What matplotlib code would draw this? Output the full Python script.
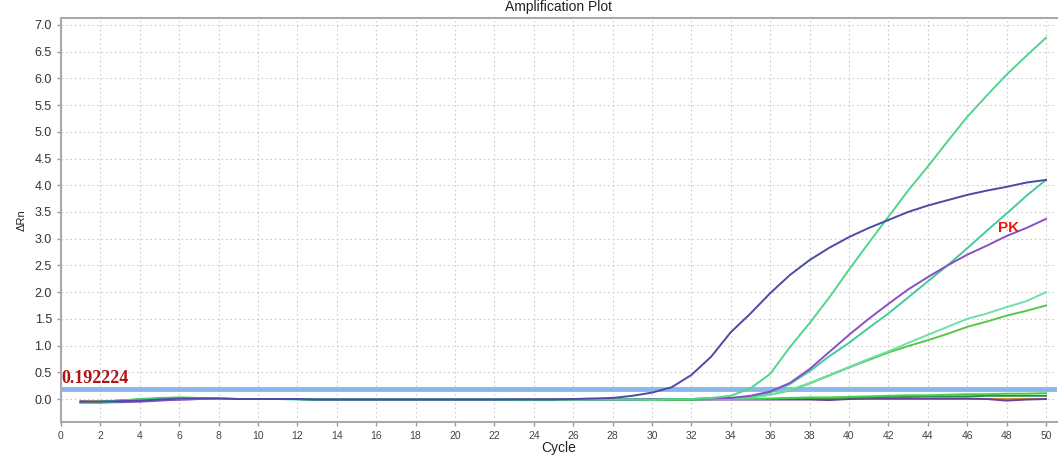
import matplotlib
matplotlib.use("Agg")
import matplotlib.pyplot as plt
import numpy as np

plt.rcParams['font.family'] = ['Liberation Sans', 'DejaVu Sans']

cycles = list(range(1, 51))

# amplified wells
blue = [-0.05, -0.05, -0.04, -0.03, -0.01, 0.01, 0.01, 0.01, 0.0, 0.0,
        0.0, 0.0, -0.01, -0.01, -0.01, -0.01, -0.01, -0.01, -0.01, -0.01,
        -0.01, -0.01, -0.01, -0.01, -0.01, 0.0, 0.01, 0.02, 0.06, 0.12,
        0.22, 0.45, 0.79, 1.25, 1.6, 1.98, 2.32, 2.6, 2.83, 3.03,
        3.2, 3.35, 3.5, 3.62, 3.72, 3.82, 3.9, 3.97, 4.05, 4.1]
green_hi = [-0.07, -0.06, -0.04, -0.02, 0.0, 0.01, 0.01, 0.0, 0.0, 0.0,
            0.0, -0.01, -0.01, -0.01, -0.01, -0.01, -0.01, -0.01, -0.01, -0.01,
            -0.01, -0.01, -0.02, -0.02, -0.02, -0.01, -0.01, -0.01, -0.01, -0.01,
            0.0, 0.0, 0.02, 0.06, 0.2, 0.47, 0.97, 1.42, 1.9, 2.42,
            2.92, 3.41, 3.9, 4.35, 4.82, 5.28, 5.68, 6.07, 6.42, 6.76]
teal = [-0.06, -0.05, -0.03, -0.01, 0.0, 0.01, 0.01, 0.0, 0.0, 0.0,
        0.0, 0.0, -0.01, -0.01, -0.01, -0.01, -0.01, -0.01, -0.01, -0.01,
        -0.01, -0.01, -0.01, -0.01, -0.01, -0.01, -0.01, -0.01, -0.01, 0.0,
        0.0, 0.0, 0.01, 0.02, 0.05, 0.12, 0.28, 0.52, 0.8, 1.05,
        1.33, 1.6, 1.9, 2.2, 2.5, 2.82, 3.15, 3.47, 3.8, 4.1]
pk = [-0.05, -0.06, -0.06, -0.05, -0.03, -0.01, 0.0, 0.0, 0.0, 0.0,
      0.0, 0.0, -0.01, -0.01, -0.01, -0.01, -0.01, -0.01, -0.01, -0.01,
      -0.01, -0.01, -0.01, -0.01, -0.01, -0.01, -0.01, -0.01, -0.01, 0.0,
      0.0, 0.0, 0.01, 0.02, 0.06, 0.14, 0.3, 0.56, 0.88, 1.2,
      1.5, 1.78, 2.05, 2.28, 2.5, 2.7, 2.87, 3.05, 3.2, 3.37]
mint = [-0.07, -0.06, -0.04, -0.02, 0.0, 0.01, 0.01, 0.0, 0.0, 0.0,
        0.0, 0.0, -0.01, -0.01, -0.01, -0.01, -0.01, -0.01, -0.01, -0.01,
        -0.01, -0.01, -0.01, -0.02, -0.02, -0.02, -0.01, -0.01, -0.01, -0.01,
        0.0, 0.0, 0.0, 0.01, 0.03, 0.08, 0.17, 0.3, 0.45, 0.6,
        0.75, 0.89, 1.05, 1.2, 1.35, 1.5, 1.6, 1.72, 1.83, 2.0]
lime = [-0.07, -0.07, -0.05, -0.03, -0.01, 0.0, 0.01, 0.0, 0.0, 0.0,
        0.0, 0.0, -0.01, -0.01, -0.01, -0.01, -0.01, -0.01, -0.01, -0.01,
        -0.01, -0.01, -0.01, -0.01, -0.01, -0.01, -0.01, -0.01, -0.01, -0.01,
        0.0, 0.0, 0.0, 0.01, 0.03, 0.08, 0.16, 0.29, 0.44, 0.59,
        0.73, 0.87, 0.99, 1.1, 1.22, 1.35, 1.45, 1.56, 1.65, 1.75]

# negative wells
neg_green = [-0.07, -0.06, -0.03, 0.0, 0.02, 0.03, 0.02, 0.01, 0.0, 0.0,
             0.0, 0.0, -0.01, -0.01, -0.01, -0.01, -0.01, -0.01, -0.01, -0.01,
             -0.01, -0.01, -0.02, -0.02, -0.02, -0.01, -0.01, -0.01, -0.01, -0.01,
             -0.01, -0.01, 0.0, 0.0, 0.0, 0.01, 0.02, 0.03, 0.03, 0.04,
             0.05, 0.06, 0.07, 0.07, 0.08, 0.09, 0.09, 0.1, 0.1, 0.11]
neg_dkgreen = [-0.06, -0.05, -0.03, -0.01, 0.01, 0.02, 0.01, 0.01, 0.0, 0.0,
               0.0, 0.0, -0.01, -0.01, -0.01, -0.01, -0.01, -0.01, -0.01, -0.01,
               -0.01, -0.01, -0.01, -0.01, -0.01, -0.01, -0.01, -0.01, -0.01, -0.01,
               -0.01, -0.01, 0.0, 0.0, 0.0, 0.0, 0.01, 0.02, 0.02, 0.03,
               0.03, 0.04, 0.04, 0.05, 0.05, 0.05, 0.06, 0.06, 0.06, 0.06]
neg_orange = [-0.04, -0.04, -0.03, -0.02, -0.01, 0.0, 0.0, 0.0, 0.0, 0.0,
              0.0, 0.0, 0.0, 0.0, 0.0, 0.0, 0.0, 0.0, 0.0, 0.0,
              0.0, 0.0, 0.0, 0.0, 0.0, 0.0, 0.0, 0.0, 0.0, 0.0,
              0.0, 0.0, 0.0, 0.0, 0.0, 0.0, 0.0, 0.0, 0.0, 0.0,
              0.0, 0.0, 0.0, 0.0, 0.0, 0.0, 0.0, 0.0, 0.0, 0.0]
neg_purple = [-0.05, -0.06, -0.05, -0.04, -0.02, -0.01, 0.0, 0.0, 0.0, 0.0,
              0.0, 0.0, -0.01, -0.01, -0.01, -0.01, -0.01, -0.01, -0.01, -0.01,
              -0.01, -0.01, -0.01, -0.01, -0.01, -0.01, -0.01, -0.01, -0.01, -0.01,
              -0.01, -0.01, -0.01, -0.01, -0.01, -0.01, -0.01, -0.01, -0.02, 0.0,
              0.01, 0.01, 0.01, 0.01, 0.01, 0.01, 0.0, -0.03, -0.01, 0.0]

series = [
    (neg_orange, '#c98a3a'),
    (neg_purple, '#6a3fa0'),
    (neg_dkgreen, '#2f8f3a'),
    (neg_green, '#3fd24a'),
    (lime, '#55c84a'),
    (mint, '#6ee0a8'),
    (teal, '#45c9a0'),
    (pk, '#8a4fc2'),
    (green_hi, '#52d48c'),
    (blue, '#4b4aa8'),
]

threshold = 0.192224

fig = plt.figure(figsize=(10.6, 4.61), dpi=100)
ax = fig.add_axes([0.0575, 0.0846, 0.9395, 0.8764])

ax.axhline(threshold, color='#8ab8ec', lw=3.5, zorder=2)
for ys, c in series:
    ax.plot(cycles, ys, color=c, lw=1.4, zorder=3)

ax.text(0.0, threshold + 0.03, '0.192224', color='#b01414', fontsize=13,
        fontweight='bold', family=['Liberation Serif', 'DejaVu Serif'],
        va='bottom', ha='left', zorder=4)
ax.text(48.1, 3.2, 'PK', color='#ff1010', fontsize=11, fontweight='bold',
        ha='center', va='center', zorder=4)

ax.set_xlim(0, 50.55)
ax.set_ylim(-0.43, 7.13)
ax.set_xticks(np.arange(0, 51, 2))
ax.set_yticks(np.arange(0, 7.01, 0.5))
ax.set_yticklabels([f'{v:.1f}' for v in np.arange(0, 7.01, 0.5)])
ax.tick_params(axis='y', labelsize=9, colors='#999999', labelcolor='#333333',
               length=3, width=1)
ax.tick_params(axis='x', labelsize=7.5, colors='#999999', labelcolor='#444444',
               length=3, width=1)

ax.grid(True, color='#cccccc', linestyle=(0, (1.5, 2.5)), lw=0.8)
ax.set_axisbelow(True)

for side in ['left', 'bottom', 'top']:
    ax.spines[side].set_color('#aaaaaa')
    ax.spines[side].set_linewidth(1.5)
ax.spines['right'].set_visible(False)

ax.set_title('Amplification Plot', fontsize=10, color='#222222', pad=5)
ax.set_xlabel('Cycle', fontsize=10, color='#222222', labelpad=0)
ax.set_ylabel('ΔRn', fontsize=8, color='#222222', labelpad=6)

fig.savefig('out.png', dpi=100)
